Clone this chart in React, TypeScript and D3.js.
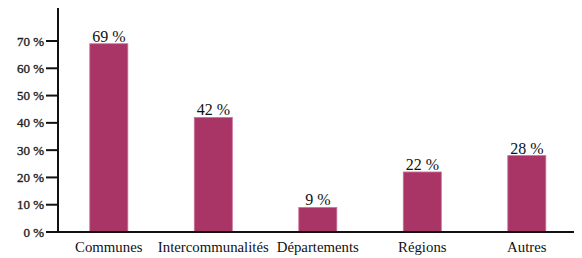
import React, { useEffect, useRef } from 'react';
import * as d3 from 'd3';

const categories = ['Communes', 'Intercommunalités', 'Départements', 'Régions', 'Autres'];
const values = [69, 42, 9, 22, 28];
const ticks = [0, 10, 20, 30, 40, 50, 60, 70];

const App: React.FC = () => {
  const svgRef = useRef<SVGSVGElement>(null);

  useEffect(() => {
    if (!svgRef.current) return;
    const svg = d3.select(svgRef.current);
    svg.selectAll('*').remove();

    const width = 582;
    const height = 258;
    const left = 58;
    const right = 574;
    const bottom = 232;
    const top = 8;
    const font = '"Liberation Serif", "DejaVu Serif", serif';

    svg.attr('width', width).attr('height', height);

    const x = d3.scaleBand<string>()
      .domain(categories)
      .range([60, 575.6])
      .paddingInner(0.636)
      .paddingOuter(0.285);

    const y = d3.scaleLinear().domain([0, 70]).range([bottom, 41]);

    // bars
    svg.append('g')
      .selectAll('rect')
      .data(values)
      .join('rect')
      .attr('x', (_, i) => x(categories[i])!)
      .attr('width', x.bandwidth())
      .attr('y', d => y(d))
      .attr('height', d => bottom - y(d))
      .attr('fill', '#a93566')
      .attr('stroke', '#c9739a')
      .attr('stroke-width', 0.8);

    // value labels
    svg.append('g')
      .selectAll('text')
      .data(values)
      .join('text')
      .attr('x', (_, i) => x(categories[i])! + x.bandwidth() / 2)
      .attr('y', d => y(d) - 2)
      .attr('text-anchor', 'middle')
      .style('font-family', font)
      .style('font-size', '16px')
      .attr('fill', '#111')
      .text(d => `${d} %`);

    // y axis
    svg.append('line')
      .attr('x1', left).attr('x2', left)
      .attr('y1', top).attr('y2', bottom + 1)
      .attr('stroke', '#111').attr('stroke-width', 2);

    const yt = svg.append('g');
    yt.selectAll('line')
      .data(ticks)
      .join('line')
      .attr('x1', 46).attr('x2', left)
      .attr('y1', d => y(d)).attr('y2', d => y(d))
      .attr('stroke', '#111').attr('stroke-width', 2);
    yt.selectAll('text')
      .data(ticks)
      .join('text')
      .attr('x', 44)
      .attr('y', d => y(d))
      .attr('dy', '0.35em')
      .attr('text-anchor', 'end')
      .style('font-family', font)
      .style('font-size', '13px')
      .attr('fill', '#222')
      .attr('stroke', '#222')
      .attr('stroke-width', 0.35)
      .text(d => `${d} %`);

    // x axis
    svg.append('line')
      .attr('x1', left - 1).attr('x2', right)
      .attr('y1', bottom).attr('y2', bottom)
      .attr('stroke', '#111').attr('stroke-width', 2);

    svg.append('g')
      .selectAll('text')
      .data(categories)
      .join('text')
      .attr('x', d => x(d)! + x.bandwidth() / 2)
      .attr('y', 252)
      .attr('text-anchor', 'middle')
      .style('font-family', font)
      .style('font-size', '14.8px')
      .attr('fill', '#111')
      .text(d => d);
  }, []);

  return <svg ref={svgRef} style={{ position: 'absolute', left: 0, top: 0 }}></svg>;
};

export default App;
